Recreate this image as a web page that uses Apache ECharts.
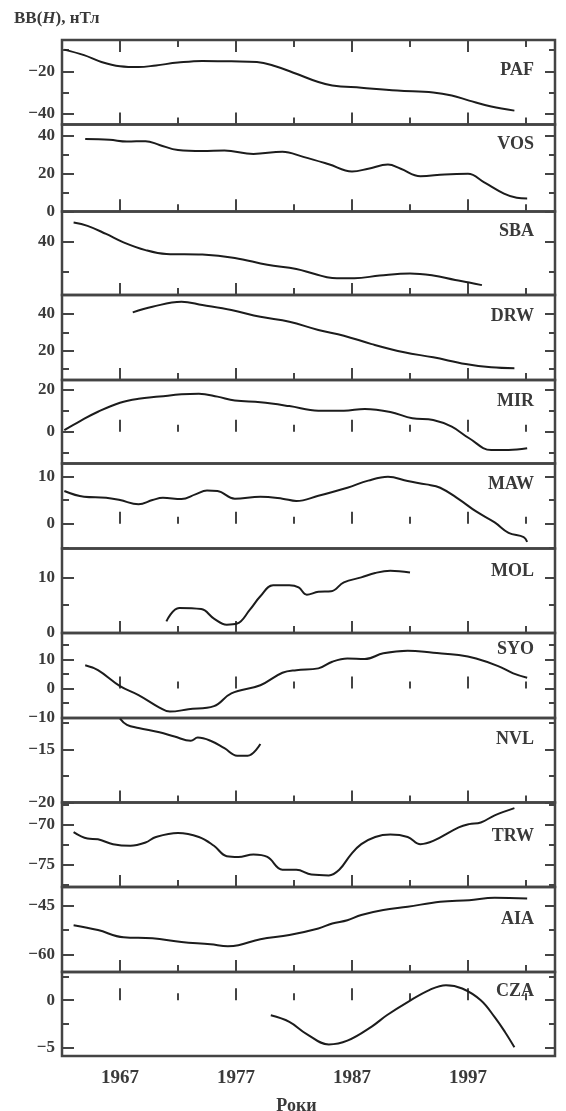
<!DOCTYPE html>
<html>
<head>
<meta charset="utf-8">
<script src="https://cdn.jsdelivr.net/npm/echarts@6/dist/echarts.min.js"></script>
<style>
  html, body { margin: 0; padding: 0; background: #fff; }
  #chart { width: 566px; height: 1111px; }
</style>
</head>
<body>
<div id="chart"></div>
<script>
// stations, top to bottom
var stations = ['PAF', 'VOS', 'SBA', 'DRW', 'MIR', 'MAW', 'MOL', 'SYO', 'NVL', 'TRW', 'AIA', 'CZA'];

// [year, nT]
var paf = [[1962.2,-9.8],[1963.9,-12.4],[1965.4,-15.6],[1967.0,-17.6],[1968.6,-18.0],[1970.1,-17.2],[1972.0,-15.9],[1974.1,-15.1],[1976.6,-15.3],[1978.8,-15.6],[1980.4,-17.6],[1982.2,-21.1],[1984.1,-25.0],[1985.3,-26.6],[1987.8,-27.7],[1990.9,-29.0],[1994.0,-29.9],[1995.6,-31.3],[1997.1,-33.7],[1999.0,-36.5],[2001.0,-38.4]];
var vos = [[1964.0,38.2],[1966.1,37.8],[1967.6,36.9],[1969.2,37.1],[1970.4,35.1],[1972.0,32.4],[1974.1,31.9],[1976.0,32.1],[1978.5,30.3],[1981.0,31.5],[1982.8,28.8],[1985.0,24.9],[1987.0,21.1],[1988.4,22.5],[1990.1,24.7],[1991.2,22.5],[1992.9,18.6],[1995.0,19.5],[1997.0,19.8],[1998.4,15.3],[2000.1,9.4],[2001.2,7.2],[2002.1,6.8]];
var sba = [[1963.0,46.4],[1964.2,45.3],[1965.8,42.6],[1967.3,39.8],[1969.2,37.2],[1971.0,35.9],[1974.1,35.7],[1976.9,34.6],[1979.7,32.3],[1982.2,30.9],[1983.8,29.2],[1985.3,27.9],[1987.2,27.8],[1989.4,28.7],[1992.0,29.4],[1994.0,28.7],[1995.9,27.2],[1997.1,26.4],[1998.2,25.5]];
var drw = [[1968.1,40.9],[1969.8,44.0],[1972.3,46.7],[1974.1,44.9],[1976.6,42.2],[1979.1,38.5],[1981.6,35.8],[1984.1,31.3],[1986.3,28.2],[1988.7,23.6],[1991.5,19.1],[1994.0,16.4],[1996.8,12.7],[1999.0,10.9],[2001.0,10.4]];
var mir = [[1962.2,0.8],[1963.6,5.2],[1965.1,9.5],[1967.0,13.8],[1968.6,15.7],[1970.4,16.7],[1972.3,17.8],[1973.8,18.1],[1975.4,16.7],[1976.9,14.8],[1979.1,14.0],[1981.6,12.2],[1984.1,10.0],[1986.3,10.0],[1988.1,10.8],[1990.3,9.4],[1992.2,6.4],[1994.0,5.6],[1995.6,2.4],[1997.1,-3.1],[1999.0,-8.7],[2000.5,-8.7],[2002.1,-7.9]];
var maw = [[1962.2,6.9],[1963.9,5.7],[1965.8,5.5],[1967.0,5.0],[1968.6,4.1],[1969.8,5.0],[1970.7,5.5],[1972.3,5.2],[1973.5,6.2],[1974.5,7.0],[1975.4,6.9],[1976.9,5.3],[1979.1,5.7],[1981.0,5.3],[1982.2,4.8],[1984.1,5.9],[1986.6,7.6],[1988.4,9.1],[1990.1,9.9],[1991.8,9.0],[1993.4,8.3],[1994.6,7.6],[1996.2,5.2],[1997.7,2.6],[1999.3,0.3],[2000.5,-1.9],[2001.8,-2.8],[2002.1,-3.8]];
var mol = [[1971.0,2.1],[1972.1,4.5],[1974.0,4.3],[1975.1,2.6],[1976.2,1.5],[1977.1,1.7],[1978.2,4.2],[1979.1,6.6],[1980.2,8.6],[1981.6,8.6],[1982.4,8.2],[1983.1,6.9],[1984.1,7.4],[1985.2,7.5],[1986.3,9.1],[1987.8,10.0],[1989.0,10.8],[1990.3,11.2],[1992.0,10.9]];
var syo = [[1964.0,8.0],[1965.1,6.3],[1967.0,0.8],[1968.6,-2.3],[1970.4,-6.6],[1971.3,-8.0],[1972.9,-7.2],[1975.1,-6.1],[1976.6,-1.7],[1979.1,1.1],[1981.0,5.4],[1982.2,6.3],[1984.1,6.9],[1985.3,9.2],[1986.6,10.3],[1988.1,10.1],[1989.7,12.1],[1991.8,13.0],[1994.0,12.3],[1996.2,11.5],[1997.7,10.3],[1999.6,7.7],[2000.9,5.2],[2002.1,3.7]];
var nvl = [[1967.0,-12.1],[1967.6,-12.7],[1968.6,-13.0],[1970.4,-13.4],[1971.7,-13.8],[1973.1,-14.2],[1973.7,-13.9],[1974.8,-14.2],[1976.0,-14.9],[1977.1,-15.6],[1978.0,-15.6],[1979.1,-14.5]];
var trw = [[1963.0,-70.9],[1964.2,-71.7],[1965.1,-71.8],[1966.4,-72.4],[1967.9,-72.6],[1969.2,-72.2],[1970.1,-71.5],[1972.0,-71.0],[1973.8,-71.5],[1975.1,-72.6],[1976.2,-73.9],[1977.2,-74.0],[1978.5,-73.7],[1979.7,-74.0],[1981.0,-75.6],[1982.2,-75.6],[1983.5,-76.2],[1985.0,-76.3],[1985.9,-75.6],[1986.9,-73.7],[1987.8,-72.4],[1989.0,-71.5],[1990.3,-71.2],[1991.8,-71.5],[1992.9,-72.4],[1994.0,-72.0],[1996.2,-70.3],[1997.1,-69.9],[1998.1,-69.7],[1999.3,-68.8],[2001.0,-67.9]];
var aia = [[1963.0,-51.0],[1965.1,-52.5],[1967.3,-54.7],[1969.8,-55.0],[1972.3,-56.1],[1974.8,-56.8],[1976.3,-57.4],[1977.2,-57.1],[1979.1,-55.3],[1981.6,-54.0],[1984.1,-52.0],[1985.3,-50.5],[1986.6,-49.5],[1987.8,-47.9],[1989.7,-46.4],[1991.8,-45.4],[1994.6,-43.9],[1997.1,-43.4],[1999.3,-42.7],[2002.1,-42.9]];
var cza = [[1980.0,-1.6],[1981.6,-2.3],[1983.1,-3.6],[1985.0,-4.7],[1986.6,-4.3],[1988.7,-2.8],[1990.0,-1.6],[1991.8,-0.2],[1993.7,1.1],[1995.1,1.6],[1996.5,1.25],[1998.1,0.0],[1999.3,-1.8],[2000.2,-3.4],[2001.0,-5.0]];
var seriesData = [paf, vos, sba, drw, mir, maw, mol, syo, nvl, trw, aia, cza];

// tick labels
var yMajor = [[-40,-20],[0,20,40],[40],[20,40],[0,20],[0,10],[0,10],[-10,0,10],[-20,-15],[-75,-70],[-60,-45],[-5,0]];
var yMinor = [[-30,-10],[10,30],[30],[10,30],[-10,10],[-5,5],[5],[-5,5,15],[-17.5,-12.5],[-77.5,-72.5,-67.5],[-52.5],[-2.5,2.5]];
var xMajor = [1967, 1977, 1987, 1997];
var xMinor = [1972, 1982, 1992, 2002];

// axis extents + layout
var yExtent = [[-44.9,-5.3],[-0.1,45.9],[22.2,50.1],[4.0,50.4],[-15.1,24.6],[-5.2,12.7],[0,15.2],[-10.2,19.1],[-20.02,-12.05],[-77.75,-67.2],[-65.25,-39.4],[-5.93,3.0]];
var edges = [40,124.5,211.5,295,380,463.5,548.5,633,718,802.5,887,972,1056];
var labelDy = [31,20.5,20.5,22,22,21.5,23.5,17,22,34.5,33,20];

var ink = '#1c1c1c';
var frame = '#444';
var txt = '#3a3a3a';
var serif = '"Liberation Serif", "DejaVu Serif", serif';

var grids = [], xAxes = [], yAxes = [], series = [], texts = [];

function tickStyle() { return { color: frame, width: 2 }; }

for (var i = 0; i < stations.length; i++) {
    grids.push({
        left: 62, right: 11, top: edges[i], height: edges[i + 1] - edges[i],
        outerBoundsMode: 'none', containLabel: false,
        show: true, borderColor: frame, borderWidth: 2.5, backgroundColor: 'transparent'
    });

    var xBase = { gridIndex: i, type: 'value', min: 1962, max: 2004.5, axisLine: {show: false}, splitLine: {show: false} };
    var last = i === stations.length - 1;
    xAxes.push(Object.assign({}, xBase, {
        position: 'bottom',
        axisTick: {inside: true, length: 12, customValues: xMajor, lineStyle: tickStyle()},
        axisLabel: {
            show: last, customValues: xMajor, margin: 13, fontFamily: serif, fontSize: 19, fontWeight: 'bold', color: txt,
            formatter: function (v) { return String(v); }
        },
        name: last ? 'Роки' : '', nameLocation: 'middle', nameGap: 41,
        nameTextStyle: {fontFamily: serif, fontSize: 18, fontWeight: 'bold', color: txt, padding: [0, 24, 0, 0]}
    }));
    xAxes.push(Object.assign({}, xBase, {
        position: 'bottom',
        axisTick: {inside: true, length: 7, customValues: xMinor, lineStyle: tickStyle()},
        axisLabel: {show: false}
    }));

    var yBase = { gridIndex: i, type: 'value', min: yExtent[i][0], max: yExtent[i][1], axisLine: {show: false}, splitLine: {show: false} };
    yAxes.push(Object.assign({}, yBase, {
        position: 'left',
        axisTick: {inside: true, length: 12, customValues: yMajor[i], lineStyle: tickStyle()},
        axisLabel: {
            customValues: yMajor[i], margin: 7, fontFamily: serif, fontSize: 17, fontWeight: 'bold', color: txt,
            formatter: function (v) { return String(v).replace('-', '\u2212'); }
        }
    }));
    yAxes.push(Object.assign({}, yBase, {
        position: 'left',
        axisTick: {inside: true, length: 7, customValues: yMinor[i], lineStyle: tickStyle()},
        axisLabel: {show: false}
    }));
    yAxes.push(Object.assign({}, yBase, {
        position: 'right',
        axisTick: {inside: true, length: 10, customValues: yMajor[i], lineStyle: tickStyle()},
        axisLabel: {show: false}
    }));
    yAxes.push(Object.assign({}, yBase, {
        position: 'right',
        axisTick: {inside: true, length: 6, customValues: yMinor[i], lineStyle: tickStyle()},
        axisLabel: {show: false}
    }));

    series.push({
        name: stations[i], type: 'line', xAxisIndex: 2 * i, yAxisIndex: 4 * i,
        data: seriesData[i], smooth: 0.4, showSymbol: false, silent: true,
        lineStyle: {color: ink, width: 2}
    });

    texts.push({
        type: 'text', right: 32, top: edges[i] + labelDy[i] - 10,
        style: {text: stations[i], font: 'bold 18px ' + serif, fill: txt}
    });
}

// top ticks of the first panel
xAxes.push({ gridIndex: 0, type: 'value', min: 1962, max: 2004.5, position: 'top', axisLine: {show: false}, splitLine: {show: false},
    axisTick: {inside: true, length: 12, customValues: xMajor, lineStyle: tickStyle()}, axisLabel: {show: false} });
xAxes.push({ gridIndex: 0, type: 'value', min: 1962, max: 2004.5, position: 'top', axisLine: {show: false}, splitLine: {show: false},
    axisTick: {inside: true, length: 7, customValues: xMinor, lineStyle: tickStyle()}, axisLabel: {show: false} });

texts.push({
    type: 'text', left: 14, top: 10,
    style: {
        text: '{a|BB(}{h|H}{a|), нТл}',
        rich: {
            a: {fontFamily: serif, fontSize: 17, fontWeight: 'bold', fill: txt, color: txt},
            h: {fontFamily: serif, fontSize: 17, fontWeight: 'bold', fontStyle: 'italic', fill: txt, color: txt}
        }
    }
});

var chart = echarts.init(document.getElementById('chart'), null, {renderer: 'canvas'});
chart.setOption({
    animation: false,
    backgroundColor: '#fff',
    grid: grids,
    xAxis: xAxes,
    yAxis: yAxes,
    series: series,
    graphic: texts
});
</script>
</body>
</html>
